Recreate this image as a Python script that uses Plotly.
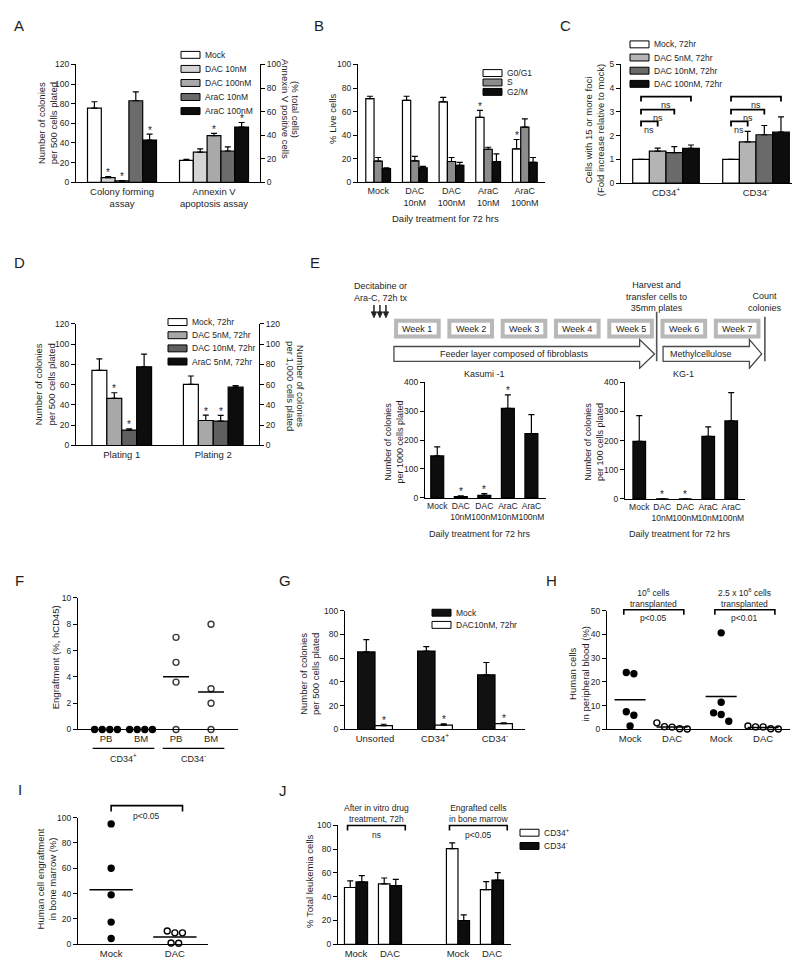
import numpy as np
import plotly.graph_objects as go

W, H = 800, 965
FONT = "Liberation Sans, Arial, Helvetica, sans-serif"
INK = "#1e1e1e"

# ======================= DATA =======================
# Panel A
A_cats = ["Colony forming<br>assay", "Annexin V<br>apoptosis assay"]
A_series = ["Mock", "DAC 10nM", "DAC 100nM", "AraC 10nM", "AraC 100nM"]
A_colony = [75.5, 4.7, 1.3, 83.0, 43.0]
A_colony_err = [6.5, 1.0, 0.3, 9.0, 6.0]
A_colony_star = [0, 1, 1, 0, 1]
A_annexin = [18.5, 25.5, 39.5, 26.5, 46.8]
A_annexin_err = [1.0, 2.8, 2.0, 3.5, 3.9]
A_annexin_star = [0, 0, 1, 0, 1]

# Panel B
B_cats = ["Mock", "DAC<br>10nM", "DAC<br>100nM", "AraC<br>10nM", "AraC<br>100nM"]
B_series = ["G0/G1", "S", "G2/M"]
B_g0 = [71.0, 69.5, 68.3, 55.0, 28.3]
B_g0_err = [2.0, 3.5, 3.7, 6.0, 8.0]
B_s = [18.0, 18.2, 17.6, 28.0, 46.8]
B_s_err = [3.0, 3.8, 3.4, 1.7, 7.0]
B_g2 = [11.5, 12.3, 14.3, 17.6, 16.8]
B_g2_err = [0.8, 1.1, 2.5, 6.4, 4.2]
B_g0_star = [0, 0, 0, 1, 1]

# Panel C
C_cats = ["CD34<sup>+</sup>", "CD34<sup>-</sup>"]
C_series = ["Mock, 72hr", "DAC 5nM, 72hr", "DAC 10nM, 72hr", "DAC 100nM, 72hr"]
C_vals = [[1.0, 1.0], [1.35, 1.74], [1.29, 2.04], [1.47, 2.15]]
C_errs = [[0.0, 0.0], [0.13, 0.44], [0.25, 0.39], [0.14, 0.64]]
C_bracket_y = [2.6, 3.1, 3.65]
C_bracket_label = ["ns", "ns", "ns"]

# Panel D
D_cats = ["Plating 1", "Plating 2"]
D_series = ["Mock, 72hr", "DAC 5nM, 72hr", "DAC 10nM, 72hr", "AraC 5nM, 72hr"]
D_vals = [[74.0, 60.3], [46.4, 24.6], [15.2, 24.0], [77.5, 57.5]]
D_errs = [[11.4, 8.2], [5.6, 5.4], [1.3, 5.6], [12.5, 1.6]]
D_stars = [[0, 0], [1, 1], [1, 1], [0, 0]]

# Panel E
E_weeks = ["Week 1", "Week 2", "Week 3", "Week 4", "Week 5", "Week 6", "Week 7"]
E_cats = ["Mock", "DAC<br>10nM", "DAC<br>100nM", "AraC<br>10nM", "AraC<br>100nM"]
E_kasumi = [145.0, 4.5, 9.0, 309.0, 222.0]
E_kasumi_err = [31.0, 2.5, 6.0, 47.0, 66.0]
E_kasumi_star = [0, 1, 1, 1, 0]
E_kg1 = [197.0, 0.0, 0.0, 214.0, 267.0]
E_kg1_err = [88.0, 0.0, 0.0, 33.0, 97.0]
E_kg1_star = [0, 1, 1, 0, 0]

# Panel F
F_ticks = ["PB", "BM", "PB", "BM"]
F_cd34pos_PB = [0, 0, 0, 0]
F_cd34pos_BM = [0, 0, 0, 0]
F_cd34neg_PB = [7.0, 5.1, 3.6, 0.0]
F_cd34neg_BM = [8.0, 3.1, 2.0, 0.0]
F_center_neg = [4.0, 2.85]

# Panel G
G_cats = ["Unsorted", "CD34<sup>+</sup>", "CD34<sup>-</sup>"]
G_series = ["Mock", "DAC10nM, 72hr"]
G_mock = [65.3, 66.0, 46.0]
G_mock_err = [10.3, 3.7, 10.4]
G_dac = [3.3, 3.6, 5.0]
G_dac_err = [1.1, 1.1, 0.5]

# Panel H
H_ticks = ["Mock", "DAC", "Mock", "DAC"]
H_mock_1e6 = [23.5, 24.0, 7.5, 6.0, 1.5]
H_dac_1e6 = [2.8, 1.2, 1.0, 0.3, 0.2]
H_mock_25e6 = [40.7, 11.5, 7.0, 6.3, 3.5]
H_dac_25e6 = [1.5, 1.1, 1.1, 0.3, 0.2]
H_center = [12.5, 1.1, 13.9, 0.8]

# Panel I
I_ticks = ["Mock", "DAC"]
I_mock = [95.0, 60.0, 39.0, 17.5, 4.5]
I_dac = [9.0, 9.0, 10.5, 1.0, 0.8]
I_center = [43.0, 5.7]

# Panel J
J_ticks = ["Mock", "DAC", "Mock", "DAC"]
J_series = ["CD34<sup>+</sup>", "CD34<sup>-</sup>"]
J_pos = [47.8, 50.8, 80.5, 46.0]
J_pos_err = [5.5, 5.0, 4.8, 6.8]
J_neg = [52.5, 49.4, 20.0, 54.0]
J_neg_err = [5.3, 5.3, 4.7, 6.3]

# ======================= HELPERS =======================
fig = go.Figure()
axes = {}
shapes = []
annots = []


def X(px):
    return px / W


def Y(py):
    return 1 - py / H


class Panel:
    def __init__(self, idx, xpx, ypx, xr, yr):
        self.idx = idx
        self.xa = "x" if idx == 1 else f"x{idx}"
        self.ya = "y" if idx == 1 else f"y{idx}"
        self.x0, self.x1 = xpx
        self.yt, self.yb = ypx
        self.xr, self.yr = xr, yr

    def px(self, v):
        return self.x0 + (v - self.xr[0]) / (self.xr[1] - self.xr[0]) * (self.x1 - self.x0)

    def py(self, v):
        return self.yb - (v - self.yr[0]) / (self.yr[1] - self.yr[0]) * (self.yb - self.yt)


def axis_style():
    return dict(showline=True, linecolor="black", linewidth=1.3, showgrid=False,
                zeroline=False, fixedrange=True)


def add_axes(p, xticks, xtext, ydtick, xfont=9.5, visible=True):
    kx = "xaxis" if p.idx == 1 else f"xaxis{p.idx}"
    ky = "yaxis" if p.idx == 1 else f"yaxis{p.idx}"
    ax = axis_style()
    ax.update(domain=[X(p.x0), X(p.x1)], range=p.xr, anchor=p.ya, ticks="",
              tickmode="array", tickvals=xticks, ticktext=xtext, tickangle=0,
              tickfont=dict(family=FONT, size=xfont, color=INK), visible=visible)
    ay = axis_style()
    ay.update(domain=[Y(p.yb), Y(p.yt)], range=p.yr, anchor=p.xa, ticks="outside",
              ticklen=4, tickwidth=1.2, tickcolor="black", tickmode="linear", tick0=0,
              dtick=ydtick, tickfont=dict(family=FONT, size=8.5, color=INK), visible=visible)
    axes[kx] = ax
    axes[ky] = ay


def right_axis(p, idx, rng, dtick):
    ay = axis_style()
    ay.update(overlaying=p.ya, side="right", anchor=p.xa, range=rng, ticks="outside",
              ticklen=4, tickwidth=1.2, tickcolor="black", tickmode="linear", tick0=0,
              dtick=dtick, tickfont=dict(family=FONT, size=8.5, color=INK))
    axes[f"yaxis{idx}"] = ay


def group_offsets(centers, n_series, w):
    centers = np.asarray(centers, float)
    return [centers + (k - (n_series - 1) / 2) * w for k in range(n_series)]


def bar(p, xs, ys, es, color, w, ya=None):
    fig.add_trace(go.Bar(
        x=list(xs), y=list(ys), width=w, xaxis=p.xa, yaxis=ya or p.ya,
        marker=dict(color=color, line=dict(color="black", width=1.2)),
        error_y=dict(type="data", symmetric=False, array=list(es),
                     arrayminus=[0] * len(es), color="black", thickness=1.2, width=3),
        showlegend=False, hoverinfo="skip"))


def stars(p, xs, ys, es, flags, ya=None):
    for x, y, e, f in zip(xs, ys, es, flags):
        if f:
            annots.append(dict(text="*", x=float(x), y=float(y + e), xref=p.xa,
                               yref=ya or p.ya, showarrow=False, yanchor="middle",
                               xanchor="center", yshift=4,
                               font=dict(family=FONT, size=10, color=INK)))


def txt(s, xpx, ypx, size=9.5, angle=0, xanchor="center", yanchor="middle"):
    annots.append(dict(text=s, x=X(xpx), y=Y(ypx), xref="paper", yref="paper",
                       showarrow=False, textangle=angle, xanchor=xanchor, yanchor=yanchor,
                       font=dict(family=FONT, size=size, color=INK)))


def legend(xpx, yfirst, row, names, colors, size=8.5, sw=19, sh=7):
    for i, (n, c) in enumerate(zip(names, colors)):
        yc = yfirst + i * row
        shapes.append(dict(type="rect", xref="paper", yref="paper",
                           x0=X(xpx), x1=X(xpx + sw), y0=Y(yc + sh / 2), y1=Y(yc - sh / 2),
                           fillcolor=c, line=dict(color="black", width=1)))
        txt(n, xpx + sw + 3, yc, size=size, xanchor="left")


def bracket(p, xa_val, xb_val, y_val, tick=5, width=1.6):
    x0, x1, y = p.px(xa_val), p.px(xb_val), p.py(y_val)
    path = (f"M {X(x0)},{Y(y + tick)} L {X(x0)},{Y(y)} "
            f"L {X(x1)},{Y(y)} L {X(x1)},{Y(y + tick)}")
    shapes.append(dict(type="path", xref="paper", yref="paper", path=path,
                       line=dict(color="black", width=width)))


def spread_offsets(vals, p, diam=7.6):
    vals = np.asarray(vals, float)
    ppu_y = (p.yb - p.yt) / (p.yr[1] - p.yr[0])
    upp_x = (p.xr[1] - p.xr[0]) / (p.x1 - p.x0)
    order = np.argsort(-vals, kind="stable")
    clusters, cur = [], [order[0]]
    for i in order[1:]:
        if (vals[cur[-1]] - vals[i]) * ppu_y < diam:
            cur.append(i)
        else:
            clusters.append(cur)
            cur = [i]
    clusters.append(cur)
    off = np.zeros(len(vals))
    for c in clusters:
        m = len(c)
        for j, i in enumerate(c):
            off[i] = (j - (m - 1) / 2) * diam * upp_x
    return off


def dots(p, center, vals, filled, edge="black"):
    off = spread_offsets(vals, p)
    fig.add_trace(go.Scatter(
        x=list(center + off), y=list(vals), mode="markers", cliponaxis=False,
        marker=dict(size=6, color="black" if filled else "white",
                    line=dict(color=edge, width=1.4)),
        xaxis=p.xa, yaxis=p.ya, showlegend=False, hoverinfo="skip"))


def center_line(p, center, val, half):
    fig.add_trace(go.Scatter(
        x=[center - half, center + half], y=[val, val], mode="lines",
        line=dict(color="black", width=1.5), xaxis=p.xa, yaxis=p.ya,
        showlegend=False, hoverinfo="skip"))


# ======================= PANEL A =======================
A_colors = ["white", "#d4d4d4", "#a9a9a9", "#6b6b6b", "#0d0d0d"]
pA = Panel(1, (68, 252), (52, 171), [-0.5, 1.5], [0, 120])
add_axes(pA, [0, 1], A_cats, 20)
right_axis(pA, 13, [0, 100], 20)
wA = 0.15
posA = group_offsets([0, 1], 5, wA)
for k in range(5):
    bar(pA, [posA[k][0]], [A_colony[k]], [A_colony_err[k]], A_colors[k], wA)
    bar(pA, [posA[k][1]], [A_annexin[k]], [A_annexin_err[k]], A_colors[k], wA, ya="y13")
stars(pA, [posA[k][0] for k in range(5)], A_colony, A_colony_err, A_colony_star)
stars(pA, [posA[k][1] for k in range(5)], A_annexin, A_annexin_err, A_annexin_star, ya="y13")
legend(173, 42.3, 14.2, A_series, A_colors)
txt("Number of colonies<br>per 500 cells plated", 39.5, 112, angle=-90)
txt("Annexin V positive cells", 277, 97, angle=90)
txt("(% total cells)", 287, 97, angle=90)

# ======================= PANEL B =======================
B_colors = ["white", "#8c8c8c", "#0d0d0d"]
pB = Panel(2, (350, 537), (52, 171), [-0.55, 4.55], [0, 100])
add_axes(pB, list(range(5)), B_cats, 20, xfont=9)
wB = 0.225
posB = group_offsets(range(5), 3, wB)
for k, (v, e) in enumerate([(B_g0, B_g0_err), (B_s, B_s_err), (B_g2, B_g2_err)]):
    bar(pB, posB[k], v, e, B_colors[k], wB)
stars(pB, posB[0], B_g0, B_g0_err, B_g0_star)
legend(475, 60.7, 9.5, B_series, B_colors)
txt("% Live cells", 325, 107, angle=-90)
txt("Daily treatment for 72 hrs", 437, 208)

# ======================= PANEL C =======================
C_colors = ["white", "#b4b4b4", "#6a6a6a", "#0d0d0d"]
pC = Panel(3, (613, 793), (52, 172), [-0.5, 1.5], [0, 5])
add_axes(pC, [0, 1], C_cats, 1)
wC = 0.185
posC = group_offsets([0, 1], 4, wC)
for k in range(4):
    bar(pC, posC[k], C_vals[k], C_errs[k], C_colors[k], wC)
for g in range(2):
    for b, (yb, lab) in enumerate(zip(C_bracket_y, C_bracket_label)):
        bracket(pC, posC[0][g], posC[b + 1][g], yb, tick=5, width=1.8)
        xm = (pC.px(posC[0][g]) + pC.px(posC[b + 1][g])) / 2
        txt(lab, xm, pC.py(yb) + 9, size=9)
legend(622, 31.7, 13.3, C_series, C_colors)
txt("Cells with 15 or more foci<br>(Fold increase relative to mock)", 586.5, 118, angle=-90)

# ======================= PANEL D =======================
D_colors = ["white", "#a8a8a8", "#5f5f5f", "#0d0d0d"]
pD = Panel(4, (68, 251), (314, 437), [-0.5, 1.5], [0, 120])
add_axes(pD, [0, 1], D_cats, 20)
right_axis(pD, 14, [0, 120], 20)
wD = 0.163
posD = group_offsets([0, 1], 4, wD)
for k in range(4):
    bar(pD, [posD[k][0]], [D_vals[k][0]], [D_errs[k][0]], D_colors[k], wD)
    bar(pD, [posD[k][1]], [D_vals[k][1]], [D_errs[k][1]], D_colors[k], wD, ya="y14")
    stars(pD, [posD[k][0]], [D_vals[k][0]], [D_errs[k][0]], [D_stars[k][0]])
    stars(pD, [posD[k][1]], [D_vals[k][1]], [D_errs[k][1]], [D_stars[k][1]], ya="y14")
legend(160, 312.3, 13.3, D_series, D_colors)
txt("Number of colonies<br>per 500 cells plated", 37, 375.5, angle=-90)
txt("per 1,000 cells plated", 283, 377, angle=90)
txt("Number of colonies", 293, 377, angle=90)

# ======================= PANEL E (schematic) =======================
axes["xaxis5"] = dict(domain=[X(306), X(759)], range=[-1.5, 7], visible=False,
                      anchor="y5", fixedrange=True)
axes["yaxis5"] = dict(domain=[Y(360), Y(265)], range=[360, 265], visible=False,
                      anchor="x5", fixedrange=True)
for k, wk in enumerate(E_weeks):
    shapes.append(dict(type="rect", xref="x5", yref="y5", x0=k + 0.04, x1=k + 0.84,
                       y0=311, y1=327, fillcolor="white",
                       line=dict(color="#b8b8b8", width=4)))
    annots.append(dict(text=wk, x=k + 0.44, y=319, xref="x5", yref="y5", showarrow=False,
                       font=dict(family=FONT, size=9, color=INK)))
arrow_specs = [(0.0, 4.61, 4.89, "Feeder layer composed of fibroblasts", 2.27),
               (5.05, 6.67, 6.9, "Methylcellulose", 5.76)]
for a0, ah, tip, label, lx in arrow_specs:
    path = (f"M {a0},337 L {ah},337 L {ah},330 L {tip},344.5 L {ah},359 "
            f"L {ah},352 L {a0},352 Z")
    shapes.append(dict(type="path", xref="x5", yref="y5", path=path, fillcolor="white",
                       line=dict(color="#4a4a4a", width=1.3)))
    annots.append(dict(text=label, x=lx, y=344.5, xref="x5", yref="y5", showarrow=False,
                       font=dict(family=FONT, size=9, color=INK)))
for vx, vy0 in [(4.93, 302), (6.96, 307)]:
    shapes.append(dict(type="line", xref="x5", yref="y5", x0=vx, x1=vx, y0=vy0, y1=352,
                       line=dict(color="#555555", width=1.6)))
for ax_ in [-0.375, -0.263, -0.15]:
    shapes.append(dict(type="line", xref="x5", yref="y5", x0=ax_, x1=ax_, y0=295, y1=303,
                       line=dict(color="#222222", width=1.5)))
    shapes.append(dict(type="path", xref="x5", yref="y5",
                       path=f"M {ax_ - 0.05},302 L {ax_ + 0.05},302 L {ax_},308 Z",
                       fillcolor="#222222", line=dict(color="#222222", width=0.8)))
annots.append(dict(text="Decitabine or<br>Ara-C, 72h tx", x=-0.24, y=282, xref="x5",
                   yref="y5", showarrow=False, font=dict(family=FONT, size=9, color=INK)))
annots.append(dict(text="Harvest and<br>transfer cells to<br>35mm plates", x=4.92, y=286,
                   xref="x5", yref="y5", showarrow=False,
                   font=dict(family=FONT, size=9, color=INK)))
annots.append(dict(text="Count<br>colonies", x=6.96, y=292, xref="x5", yref="y5",
                   showarrow=False, font=dict(family=FONT, size=9, color=INK)))

# Kasumi-1
pK = Panel(6, (417, 538), (373, 490), [-0.52, 4.62], [0, 400])
add_axes(pK, list(range(5)), E_cats, 100, xfont=8.5)
bar(pK, list(range(5)), E_kasumi, E_kasumi_err, "#0d0d0d", 0.55)
stars(pK, list(range(5)), E_kasumi, E_kasumi_err, E_kasumi_star)
txt("Kasumi -1", 476, 365, size=9)
txt("Number of colonies<br>per 1000 cells plated", 386, 434, angle=-90, size=9)
txt("Daily treatment for 72 hrs", 472, 526, size=9)

# KG-1
pG1 = Panel(7, (617, 737), (373, 491), [-0.62, 4.6], [0, 400])
add_axes(pG1, list(range(5)), E_cats, 100, xfont=8.5)
bar(pG1, list(range(5)), E_kg1, E_kg1_err, "#0d0d0d", 0.55)
stars(pG1, list(range(5)), E_kg1, E_kg1_err, E_kg1_star)
txt("KG-1", 675, 365, size=9)
txt("Number of colonies<br>per 100 cells plated", 585.5, 434, angle=-90, size=9)
txt("Daily treatment for 72 hrs", 672, 526, size=9)

# ======================= PANEL F =======================
pF = Panel(8, (70, 230), (591, 724), [0.2, 4.77], [0, 10])
add_axes(pF, [1, 2, 3, 4], F_ticks, 2, xfont=9.5)
dots(pF, 1, F_cd34pos_PB, True)
dots(pF, 2, F_cd34pos_BM, True)
dots(pF, 3, F_cd34neg_PB, False, edge="#3a3a3a")
dots(pF, 4, F_cd34neg_BM, False, edge="#3a3a3a")
center_line(pF, 3, F_center_neg[0], 0.37)
center_line(pF, 4, F_center_neg[1], 0.37)
for gc, lab in [(1.5, "CD34<sup>+</sup>"), (3.5, "CD34<sup>-</sup>")]:
    shapes.append(dict(type="line", xref="paper", yref="paper",
                       x0=X(pF.px(gc - 0.88)), x1=X(pF.px(gc + 0.88)), y0=Y(743), y1=Y(743),
                       line=dict(color="black", width=1.2)))
    txt(lab, pF.px(gc), 753, size=9)
txt("Engraftment (%, hCD45)", 47, 651, angle=-90)

# ======================= PANEL G =======================
pGg = Panel(9, (337, 517), (604, 724), [-0.5, 2.5], [0, 100])
add_axes(pGg, [0, 1, 2], G_cats, 20)
wG = 0.29
posG = group_offsets(range(3), 2, wG)
bar(pGg, posG[0], G_mock, G_mock_err, "#111111", wG)
bar(pGg, posG[1], G_dac, G_dac_err, "white", wG)
stars(pGg, posG[1], G_dac, G_dac_err, [1, 1, 1])
legend(424, 606, 12.3, G_series, ["#111111", "white"])
txt("Number of colonies<br>per 500 cells plated", 301, 668, angle=-90)

# ======================= PANEL H =======================
H_posx = [0, 1, 2.17, 3.17]
pH = Panel(10, (599, 782), (604, 724), [-0.55, 3.81], [0, 50])
add_axes(pH, H_posx, H_ticks, 10)
for c, vals, filled in zip(H_posx, [H_mock_1e6, H_dac_1e6, H_mock_25e6, H_dac_25e6],
                           [True, False, True, False]):
    dots(pH, c, vals, filled)
for c, v in zip(H_posx, H_center):
    center_line(pH, c, v, 0.37)
for (a, b), lab, head in [((0, 1), "p<0.05", "10<sup>6</sup> cells<br>transplanted"),
                          ((2, 3), "p<0.01", "2.5 x 10<sup>6</sup> cells<br>transplanted")]:
    bracket(pH, H_posx[a] - 0.15, H_posx[b] + 0.28, 50.4, tick=5)
    xm = (pH.px(H_posx[a] - 0.15) + pH.px(H_posx[b] + 0.28)) / 2
    txt(lab, xm, 611, size=8.5)
    txt(head, xm, 591, size=8.5)
txt("Human cells<br>in peripheral blood (%)", 570.5, 668, angle=-90)

# ======================= PANEL I =======================
pI = Panel(11, (70, 200), (813, 941), [-0.52, 1.52], [0, 100])
add_axes(pI, [0, 1], I_ticks, 20)
dots(pI, 0, I_mock, True)
dots(pI, 1, I_dac, False)
for c, v in zip([0, 1], I_center):
    center_line(pI, c, v, 0.34)
bracket(pI, 0, 1.12, 109.4, tick=6)
txt("p<0.05", (pI.px(0) + pI.px(1.12)) / 2, 811, size=8.5)
txt("Human cell engraftment<br>in bone marrow (%)", 38.5, 875, angle=-90)

# ======================= PANEL J =======================
J_centers = [0, 1, 3, 4]
pJ = Panel(12, (330, 503), (821, 941), [-0.53, 4.56], [0, 100])
add_axes(pJ, J_centers, J_ticks, 20)
wJ = 0.34
posJ = group_offsets(J_centers, 2, wJ)
bar(pJ, posJ[0], J_pos, J_pos_err, "white", wJ)
bar(pJ, posJ[1], J_neg, J_neg_err, "#0d0d0d", wJ)
for (a, b), lab, head in [((0, 1), "ns", "After in vitro drug<br>treatment, 72h"),
                          ((3, 4), "p<0.05", "Engrafted cells<br>in bone marrow")]:
    bracket(pJ, a - 0.25, b + 0.45, 100, tick=5)
    xm = (pJ.px(a - 0.25) + pJ.px(b + 0.45)) / 2
    txt(lab, xm, 831, size=8.5)
    txt(head, xm, 809, size=8.5)
legend(512, 828.3, 13.4, J_series, ["white", "#0d0d0d"])
txt("% Total leukemia cells", 302, 877, angle=-90)

# ======================= PANEL LETTERS =======================
for letter, lx, ly in [("A", 11, 13), ("B", 311, 13), ("C", 557, 13), ("D", 11, 252),
                       ("E", 307, 252), ("F", 11, 573), ("G", 277, 573), ("H", 543, 573),
                       ("I", 12, 785), ("J", 275, 786)]:
    txt(letter, lx, ly, size=15)

fig.update_layout(
    width=W, height=H, margin=dict(l=0, r=0, t=0, b=0),
    paper_bgcolor="white", plot_bgcolor="rgba(0,0,0,0)",
    showlegend=False, barmode="overlay",
    font=dict(family=FONT, size=9, color=INK),
    shapes=shapes, annotations=annots, **axes)

fig.write_html("out.html")
